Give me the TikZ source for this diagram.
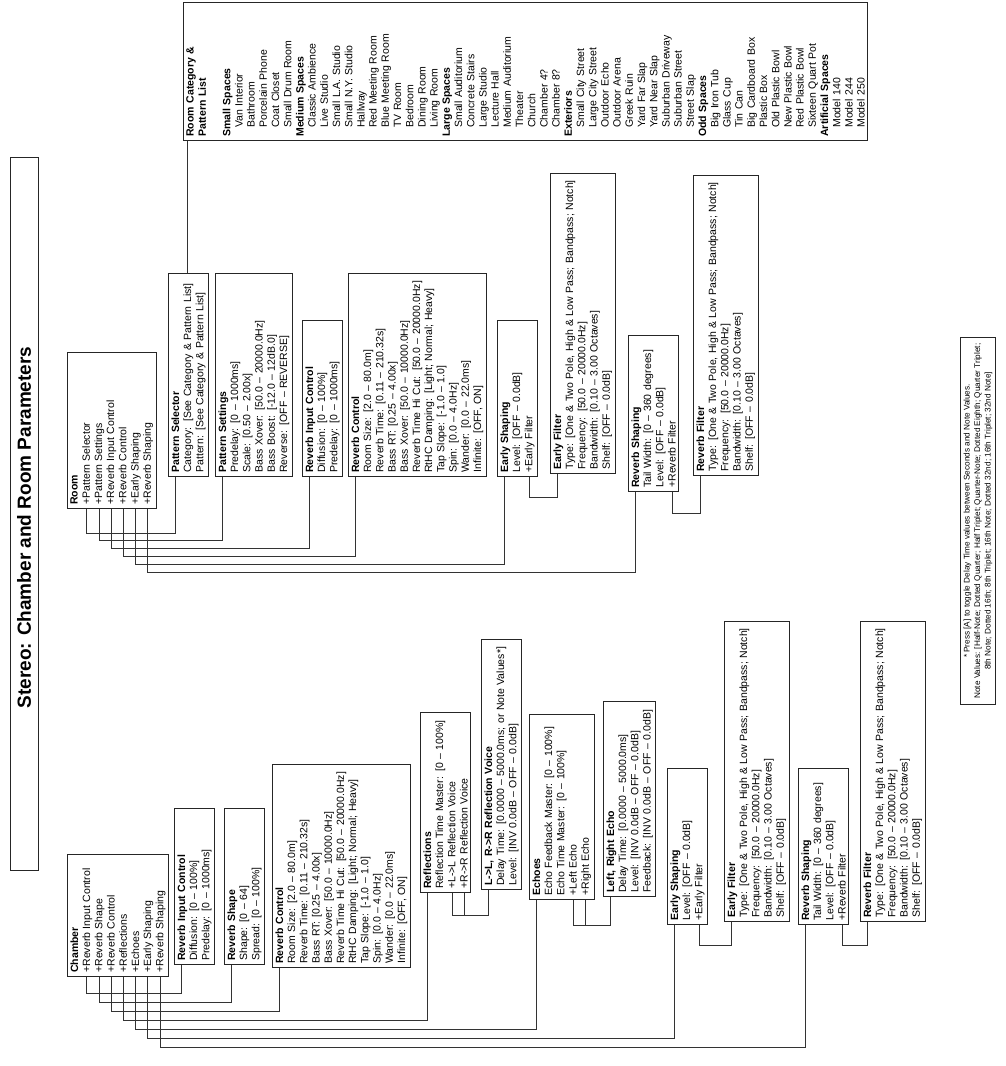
\documentclass[tikz,border=0pt]{standalone}
\usepackage{fontspec}
\setmainfont{Liberation Sans}
\usetikzlibrary{calc}

\tikzset{
  box/.style={draw=black!85, line width=0.8pt, rotate=90, anchor=north west,
    align=left, inner xsep=4pt, inner ysep=3pt,
    font=\fontsize{10.5}{12.2}\selectfont},
  link/.style={draw=black!80, line width=0.7pt},
}
% one coordinate per text row, on the lower edge of a box
\newcommand{\rows}[2]{%
  \foreach \k in {0,...,#2}{\coordinate (#1-\k) at ($(#1.north west)+(7.5+12.2*\k,0)$);}}
\newcommand{\itm}{\hspace*{9pt}}

\begin{document}
\begin{tikzpicture}[x=1pt, y=1pt]
  \useasboundingbox (0,0) rectangle (1006,-1066);
  %
  \node[draw=black!85, line width=0.8pt, rotate=90, minimum width=713pt, minimum height=28pt,
    font=\fontsize{19}{22}\selectfont\bfseries] (title) at (24,-513.5) {Stereo: Chamber and Room Parameters\hspace*{28pt}};
  %
  % room side
  \node[box, text width=148pt] (room) at (67,-509) {\textbf{Room}\\+Pattern Selector\\+Pattern Settings\\+Reverb Input Control\\+Reverb Control\\+Early Shaping\\+Reverb Shaping};
  \node[box, text width=195pt] (patsel) at (168,-477) {\textbf{Pattern Selector}\\Category: [See Category \& Pattern List]\\Pattern: [See Category \& Pattern List]};
  \node[box, text width=195pt] (patset) at (215,-477) {\textbf{Pattern Settings}\\Predelay: [0 – 1000ms]\\Scale: [0.50 – 2.00x]\\Bass Xover: [50.0 – 20000.0Hz]\\Bass Boost: [-12.0 – 12dB.0]\\Reverse: [OFF – REVERSE]};
  \node[box, text width=148pt] (ricR) at (302,-477) {\textbf{Reverb Input Control}\\Diffusion: [0 – 100\%]\\Predelay: [0 – 1000ms]};
  \node[box, text width=195pt] (rcR) at (348,-477) {\textbf{Reverb Control}\\Room Size: [2.0 – 80.0m]\\Reverb Time: [0.11 – 210.32s]\\Bass RT: [0.25 – 4.00x]\\Bass Xover: [50.0 – 10000.0Hz]\\Reverb Time Hi Cut: [50.0 – 20000.0Hz]\\RtHC Damping: [Light; Normal; Heavy]\\Tap Slope: [-1.0 – 1.0]\\Spin: [0.0 – 4.0Hz]\\Wander: [0.0 – 22.0ms]\\Infinite: [OFF, ON]};
  \node[box, text width=148pt] (esR) at (497,-477) {\textbf{Early Shaping}\\Level: [OFF – 0.0dB]\\+Early Filter};
  \node[box, text width=292pt] (efR) at (550,-474) {\textbf{Early Filter}\\Type: [One \& Two Pole, High \& Low Pass; Bandpass; Notch]\\Frequency: [50.0 – 20000.0Hz]\\Bandwidth: [0.10 – 3.00 Octaves]\\Shelf: [OFF – 0.0dB]};
  \node[box, text width=148pt] (rsR) at (628,-492) {\textbf{Reverb Shaping}\\Tail Width: [0 – 360 degrees]\\Level: [OFF – 0.0dB]\\+Reverb Filter};
  \node[box, text width=292pt] (rfR) at (693,-476) {\textbf{Reverb Filter}\\Type: [One \& Two Pole, High \& Low Pass; Bandpass; Notch]\\Frequency: [50.0 – 20000.0Hz]\\Bandwidth: [0.10 – 3.00 Octaves]\\Shelf: [OFF – 0.0dB]};
  \node[box, text width=130pt] (cat) at (183,-141) {\textbf{Room Category \&}\\\textbf{Pattern List}\\[12.2pt]
    \textbf{Small Spaces}\\\itm Van Interior\\\itm Bathroom\\\itm Porcelain Phone\\\itm Coat Closet\\\itm Small Drum Room\\
    \textbf{Medium Spaces}\\\itm Classic Ambience\\\itm Live Studio\\\itm Small L.A. Studio\\\itm Small N.Y. Studio\\\itm Hallway\\\itm Red Meeting Room\\\itm Blue Meeting Room\\\itm TV Room\\\itm Bedroom\\\itm Dining Room\\\itm Living Room\\
    \textbf{Large Spaces}\\\itm Small Auditorium\\\itm Concrete Stairs\\\itm Large Studio\\\itm Lecture Hall\\\itm Medium Auditorium\\\itm Theater\\\itm Church\\\itm Chamber 4?\\\itm Chamber 8?\\
    \textbf{Exteriors}\\\itm Small City Street\\\itm Large City Street\\\itm Outdoor Echo\\\itm Outdoor Arena\\\itm Greek Ruin\\\itm Yard Far Slap\\\itm Yard Near Slap\\\itm Suburban Driveway\\\itm Suburban Street\\\itm Street Slap\\
    \textbf{Odd Spaces}\\\itm Big Iron Tub\\\itm Glass Cup\\\itm Tin Can\\\itm Big Cardboard Box\\\itm Plastic Box\\\itm Old Plastic Bowl\\\itm New Plastic Bowl\\\itm Red Plastic Bowl\\\itm Sixteen Quart Pot\\
    \textbf{Artificial Spaces}\\\itm Model 140\\\itm Model 244\\\itm Model 250};
  %
  % chamber side
  \node[box, text width=114pt] (chamber) at (67,-977) {\textbf{Chamber}\\+Reverb Input Control\\+Reverb Shape\\+Reverb Control\\+Reflections\\+Echoes\\+Early Shaping\\+Reverb Shaping};
  \node[box, text width=148pt] (ricC) at (174,-965) {\textbf{Reverb Input Control}\\Diffusion: [0 – 100\%]\\Predelay: [0 – 1000ms]};
  \node[box, text width=148pt] (rshape) at (224,-965) {\textbf{Reverb Shape}\\Shape: [0 – 64]\\Spread: [0 – 100\%]};
  \node[box, text width=195pt] (rcC) at (272,-968) {\textbf{Reverb Control}\\Room Size: [2.0 – 80.0m]\\Reverb Time: [0.11 – 210.32s]\\Bass RT: [0.25 – 4.00x]\\Bass Xover: [50.0 – 10000.0Hz]\\Reverb Time Hi Cut: [50.0 – 20000.0Hz]\\RtHC Damping: [Light; Normal; Heavy]\\Tap Slope: [-1.0 – 1.0]\\Spin: [0.0 – 4.0Hz]\\Wander: [0.0 – 22.0ms]\\Infinite: [OFF, ON]};
  \node[box, text width=172pt] (refl) at (420,-893) {\textbf{Reflections}\\Reflection Time Master: [0 – 100\%]\\+L->L Reflection Voice\\+R->R Reflection Voice};
  \node[box, text width=242pt] (llrr) at (481,-890) {\textbf{L->L, R->R Reflection Voice}\\Delay Time: [0.0000 – 5000.0ms; or Note Values*]\\Level: [INV 0.0dB – OFF – 0.0dB]};
  \node[box, text width=177pt] (echoes) at (529,-900) {\textbf{Echoes}\\Echo Feedback Master: [0 – 100\%]\\Echo Time Master: [0 – 100\%]\\+Left Echo\\+Right Echo};
  \node[box, text width=187pt] (lrecho) at (603,-897) {\textbf{Left, Right Echo}\\Delay Time: [0.0000 – 5000.0ms]\\Level: [INV 0.0dB – OFF – 0.0dB]\\Feedback: [INV 0.0dB – OFF – 0.0dB]};
  \node[box, text width=148pt] (esC) at (667,-925) {\textbf{Early Shaping}\\Level: [OFF – 0.0dB]\\+Early Filter};
  \node[box, text width=292pt] (efC) at (724,-922) {\textbf{Early Filter}\\Type: [One \& Two Pole, High \& Low Pass; Bandpass; Notch]\\Frequency: [50.0 – 20000.0Hz]\\Bandwidth: [0.10 – 3.00 Octaves]\\Shelf: [OFF – 0.0dB]};
  \node[box, text width=148pt] (rshC) at (798,-925) {\textbf{Reverb Shaping}\\Tail Width: [0 – 360 degrees]\\Level: [OFF – 0.0dB]\\+Reverb Filter};
  \node[box, text width=292pt] (rfC) at (860,-922) {\textbf{Reverb Filter}\\Type: [One \& Two Pole, High \& Low Pass; Bandpass; Notch]\\Frequency: [50.0 – 20000.0Hz]\\Bandwidth: [0.10 – 3.00 Octaves]\\Shelf: [OFF – 0.0dB]};
  %
  \node[draw=black!85, line width=0.8pt, rotate=90, align=center, inner xsep=6pt, inner ysep=3pt,
    font=\fontsize{8.2}{10.5}\selectfont] (note) at (978,-521) {* Press [A] to toggle Delay Time values between Seconds and Note Values.\\Note Values: [Half-Note; Dotted Quarter; Half Triplet; Quarter-Note; Dotted Eighth; Quarter Triplet;\\8th Note; Dotted 16th; 8th Triplet; 16th Note; Dotted 32nd; 16th Triplet; 32nd Note]};
  %
  \rows{room}{6} \rows{patsel}{0} \rows{patset}{0} \rows{ricR}{0} \rows{rcR}{0}
  \rows{esR}{2} \rows{efR}{0} \rows{rsR}{3} \rows{rfR}{0}
  \rows{chamber}{7} \rows{ricC}{0} \rows{rshape}{0} \rows{rcC}{0} \rows{refl}{3} \rows{llrr}{0}
  \rows{echoes}{4} \rows{lrecho}{0} \rows{esC}{2} \rows{efC}{0} \rows{rshC}{3} \rows{rfC}{0}
  \coordinate (patsel-up) at ($(patsel.north east)+(19.7,0)$);
  %
  \draw[link] (room-1) -- ++(0,-24) -| (patsel-0);
  \draw[link] (room-2) -- ++(0,-31.8) -| (patset-0);
  \draw[link] (room-3) -- ++(0,-39.6) -| (ricR-0);
  \draw[link] (room-4) -- ++(0,-47.4) -| (rcR-0);
  \draw[link] (room-5) -- ++(0,-55.2) -| (esR-0);
  \draw[link] (room-6) -- ++(0,-63) -| (rsR-0);
  \draw[link] (esR-2) -- ++(0,-20) -| (efR-0);
  \draw[link] (rsR-3) -- ++(0,-21) -| (rfR-0);
  \draw[link] (patsel-up) -- (patsel-up |- cat.north west);
  %
  \draw[link] (chamber-1) -- ++(0,-16) -| (ricC-0);
  \draw[link] (chamber-2) -- ++(0,-25) -| (rshape-0);
  \draw[link] (chamber-3) -- ++(0,-34) -| (rcC-0);
  \draw[link] (chamber-4) -- ++(0,-43) -| (refl-0);
  \draw[link] (chamber-5) -- ++(0,-52) -| (echoes-0);
  \draw[link] (chamber-6) -- ++(0,-61) -| (esC-0);
  \draw[link] (chamber-7) -- ++(0,-70) -| (rshC-0);
  \draw[link] (refl-2) -- ++(0,-22) -| (llrr-0);
  \draw[link] (refl-3) -- ++(0,-22) -| (llrr-0);
  \draw[link] (echoes-3) -- ++(0,-25) -| (lrecho-0);
  \draw[link] (echoes-4) -- ++(0,-25) -| (lrecho-0);
  \draw[link] (esC-2) -- ++(0,-20) -| (efC-0);
  \draw[link] (rshC-3) -- ++(0,-20) -| (rfC-0);
\end{tikzpicture}
\end{document}
